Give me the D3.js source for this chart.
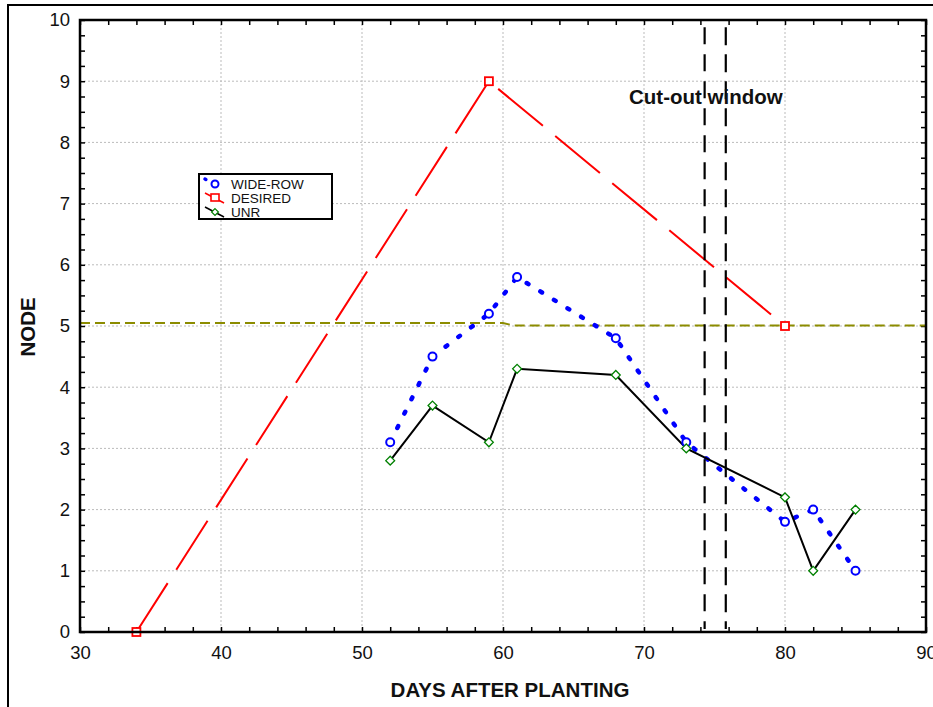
<!DOCTYPE html>
<html><head><meta charset="utf-8">
<script src="https://cdn.jsdelivr.net/npm/d3@7"></script>
<style>body{margin:0;background:#fff}svg{display:block;font-family:"Liberation Sans",Arial,sans-serif}</style>
</head><body>
<script>
const days = [52, 55, 59, 61, 68, 73, 80, 82, 85];
const wideRow = [3.1, 4.5, 5.2, 5.8, 4.8, 3.1, 1.8, 2.0, 1.0];
const unr = [2.8, 3.7, 3.1, 4.3, 4.2, 3.0, 2.2, 1.0, 2.0];
const desiredDays = [34, 59, 80];
const desired = [0, 9, 5];
const thresholdDays = [30, 60, 60.7, 90];
const threshold = [5.05, 5.05, 5.01, 5.01];
const cutoutDays = [74.3, 75.8];
const cutoutRange = [0.05, 9.88];
const xTicks = [30, 40, 50, 60, 70, 80, 90];
const yTicks = [0, 1, 2, 3, 4, 5, 6, 7, 8, 9, 10];
const legendLabels = ["WIDE-ROW", "DESIRED", "UNR"];

const W = 933, H = 707;
const svg = d3.select("body").append("svg").attr("width", W).attr("height", H);
const L = 80, R = 926, T = 20, B = 632;
const x = d3.scaleLinear().domain([30, 90]).range([L, R]);
const y = d3.scaleLinear().domain([0, 10]).range([B, T]);

// outer figure frame
svg.append("rect").attr("x", 8).attr("y", 5).attr("width", 1000).attr("height", 1000)
  .attr("fill", "none").attr("stroke", "#000").attr("stroke-width", 2);

// grid
const g = svg.append("g");
g.selectAll(".gx").data(xTicks.slice(1, -1)).join("line")
  .attr("x1", d => x(d)).attr("x2", d => x(d)).attr("y1", T).attr("y2", B)
  .attr("stroke", "#bbb").attr("stroke-width", 1).attr("stroke-dasharray", "2,2");
g.selectAll(".gy").data(yTicks.slice(1, -1)).join("line")
  .attr("x1", L).attr("x2", R).attr("y1", d => y(d)).attr("y2", d => y(d))
  .attr("stroke", "#bbb").attr("stroke-width", 1).attr("stroke-dasharray", "2,2");

// axes with inward ticks
const xMinor = d3.range(30, 90.01, 2);
const yMinor = d3.range(0, 10.01, 0.25);
svg.append("g").attr("transform", `translate(0,${B})`)
  .call(d3.axisBottom(x).tickValues(xMinor).tickSize(-5).tickFormat(""))
  .call(a => a.select(".domain").remove()).selectAll("line").attr("stroke-width", 1.5);
svg.append("g").attr("transform", `translate(0,${T})`)
  .call(d3.axisTop(x).tickValues(xMinor).tickSize(-5).tickFormat(""))
  .call(a => a.select(".domain").remove()).selectAll("line").attr("stroke-width", 1.5);
svg.append("g").attr("transform", `translate(${L},0)`)
  .call(d3.axisLeft(y).tickValues(yMinor).tickSize(-5).tickFormat(""))
  .call(a => a.select(".domain").remove()).selectAll("line").attr("stroke-width", 1.5);
svg.append("g").attr("transform", `translate(${R},0)`)
  .call(d3.axisRight(y).tickValues(yMinor).tickSize(-5).tickFormat(""))
  .call(a => a.select(".domain").remove()).selectAll("line").attr("stroke-width", 1.5);

// tick labels
svg.append("g").attr("transform", `translate(0,${B})`)
  .call(d3.axisBottom(x).tickValues(xTicks).tickSize(0).tickPadding(14).tickFormat(d3.format("d")))
  .call(a => a.select(".domain").remove())
  .selectAll("text").attr("font-size", 18.5).attr("fill", "#111").attr("font-family", "Liberation Sans, Arial");
svg.append("g").attr("transform", `translate(${L},0)`)
  .call(d3.axisLeft(y).tickValues(yTicks).tickSize(0).tickPadding(10).tickFormat(d3.format("d")))
  .call(a => a.select(".domain").remove())
  .selectAll("text").attr("font-size", 18.5).attr("fill", "#111").attr("font-family", "Liberation Sans, Arial");

// threshold line
svg.append("path").datum(thresholdDays.map((d, i) => [d, threshold[i]]))
  .attr("d", d3.line().x(d => x(d[0])).y(d => y(d[1])))
  .attr("fill", "none").attr("stroke", "#8c8c00").attr("stroke-width", 2).attr("stroke-dasharray", "10,5");

// desired
const line = d3.line().x(d => x(d[0])).y(d => y(d[1]));
svg.append("path").datum(desiredDays.map((d, i) => [d, desired[i]]))
  .attr("d", line).attr("fill", "none").attr("stroke", "#ff0000").attr("stroke-width", 2)
  .attr("stroke-dasharray", "58,16");

// wide-row dotted
svg.append("path").datum(days.map((d, i) => [d, wideRow[i]]))
  .attr("d", line).attr("fill", "none").attr("stroke", "#0000ff").attr("stroke-width", 4.5)
  .attr("stroke-linecap", "round").attr("stroke-dasharray", "2,14");

// unr
svg.append("path").datum(days.map((d, i) => [d, unr[i]]))
  .attr("d", line).attr("fill", "none").attr("stroke", "#000").attr("stroke-width", 2);

// cut-out lines
svg.selectAll(".cut").data(cutoutDays).join("line")
  .attr("x1", d => x(d)).attr("x2", d => x(d))
  .attr("y1", y(cutoutRange[1])).attr("y2", y(cutoutRange[0]))
  .attr("stroke", "#000").attr("stroke-width", 2.2).attr("stroke-dasharray", (d, i) => i ? "18,9" : "17,10");

// markers
svg.selectAll(".wm").data(days).join("circle")
  .attr("cx", d => x(d)).attr("cy", (d, i) => y(wideRow[i])).attr("r", 4)
  .attr("fill", "#fff").attr("stroke", "#0000ff").attr("stroke-width", 2);
svg.selectAll(".dm").data(desiredDays).join("rect")
  .attr("x", d => x(d) - 4).attr("y", (d, i) => y(desired[i]) - 4).attr("width", 8).attr("height", 8)
  .attr("fill", "#fff").attr("stroke", "#ff0000").attr("stroke-width", 1.8);
const diamond = d3.symbol().type(d3.symbolDiamond2).size(50);
svg.selectAll(".um").data(days).join("path")
  .attr("transform", (d, i) => `translate(${x(d)},${y(unr[i])})`)
  .attr("d", diamond).attr("fill", "#fff").attr("stroke", "#008000").attr("stroke-width", 1.3);

// plot border
svg.append("rect").attr("x", L).attr("y", T).attr("width", R - L).attr("height", B - T)
  .attr("fill", "none").attr("stroke", "#000").attr("stroke-width", 2.5);

// annotation
svg.append("text").attr("x", 629).attr("y", 104).attr("font-size", 20.5).attr("font-weight", "bold")
  .attr("fill", "#111").text("Cut-out window");

// axis titles
svg.append("text").attr("x", 510).attr("y", 697).attr("text-anchor", "middle")
  .attr("font-size", 20.5).attr("font-weight", "bold").attr("fill", "#111").text("DAYS AFTER PLANTING");
svg.append("text").attr("transform", "translate(35,327) rotate(-90)").attr("text-anchor", "middle")
  .attr("font-size", 20.5).attr("font-weight", "bold").attr("fill", "#111").text("NODE");

// legend
const lg = svg.append("g");
lg.append("rect").attr("x", 199).attr("y", 174).attr("width", 133).attr("height", 45)
  .attr("fill", "#fff").attr("stroke", "#000").attr("stroke-width", 2);
const rows = [184, 198, 212];
legendLabels.forEach((lab, i) => {
  const cy = rows[i];
  const stroke = ["#0000ff", "#ff0000", "#000"][i];
  lg.append("line").attr("x1", 205).attr("y1", cy - 5).attr("x2", 224).attr("y2", cy + 5)
    .attr("stroke", stroke).attr("stroke-width", i === 0 ? 3.5 : 1.5)
    .attr("stroke-linecap", i === 0 ? "round" : "butt")
    .attr("stroke-dasharray", i === 0 ? "1,11" : null);
  if (i === 0) lg.append("circle").attr("cx", 215).attr("cy", cy).attr("r", 3.5).attr("fill", "#fff").attr("stroke", "#0000ff").attr("stroke-width", 2);
  if (i === 1) lg.append("rect").attr("x", 211).attr("y", cy - 4).attr("width", 8).attr("height", 7).attr("fill", "#fff").attr("stroke", "#ff0000").attr("stroke-width", 1.6);
  if (i === 2) lg.append("path").attr("transform", `translate(215,${cy})`).attr("d", d3.symbol().type(d3.symbolDiamond2).size(30)).attr("fill", "#fff").attr("stroke", "#008000").attr("stroke-width", 1.2);
  lg.append("text").attr("x", 231).attr("y", cy + 4.5).attr("font-size", 13.5).attr("fill", "#111").text(lab);
});
</script>
</body></html>
